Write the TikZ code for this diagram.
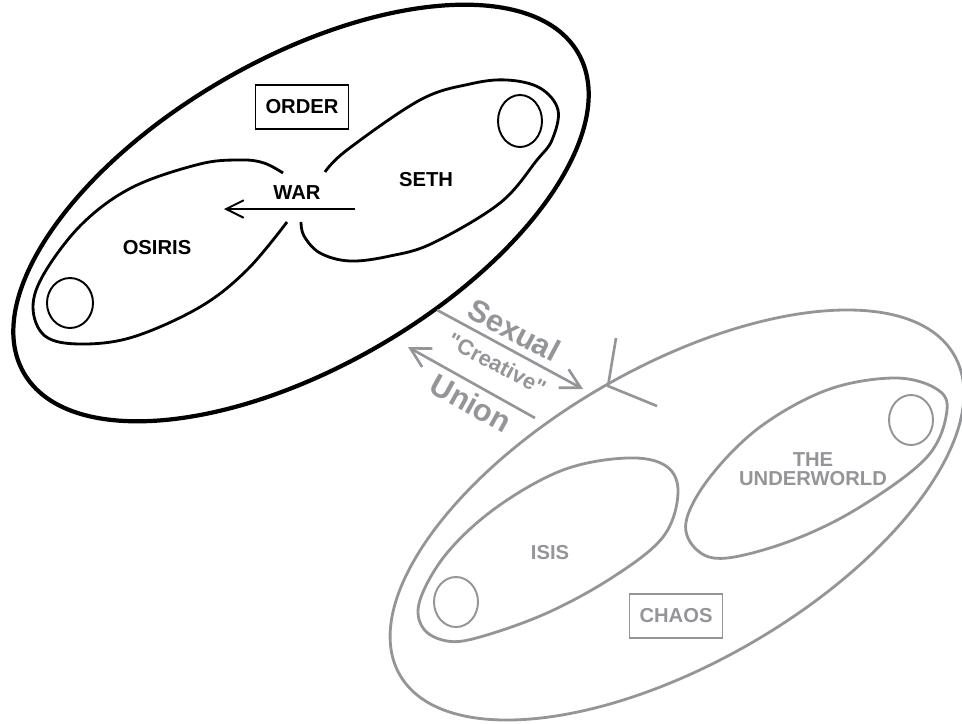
\documentclass[tikz,border=0pt]{standalone}
\usepackage{fontspec}
\setmainfont{Liberation Sans}
\usetikzlibrary{arrows.meta}
\definecolor{chaosgray}{RGB}{147,149,152}
\newcommand\straightq{\XeTeXglyph\XeTeXcharglyph"22\relax}

\begin{document}
\begin{tikzpicture}[x = 0.02cm, y = -0.02cm,
	lbl/.style = {font = \bfseries\fontsize{11.5}{13}\selectfont},
	biglbl/.style = {font = \bfseries\fontsize{17.5}{19}\selectfont, text = chaosgray},
	namebox/.style = {draw, line width = 1.1pt, lbl, minimum width = 1.86cm, minimum height = 0.88cm},
	lobe/.style = {line width = 1.6pt},
	ring/.style = {line width = 1.1pt},
	bigarrow/.style = {chaosgray, line width = 1.5pt, -{Straight Barb[length = 11pt, width = 12pt, line width = 1.5pt]}}]
	\useasboundingbox (0,0) rectangle (962,723);

	% order
	\coordinate (oc) at (301,213);
	\draw [line width = 2.4pt, rotate around = {30:(oc)}] (oc) ellipse [x radius = 320, y radius = 154];
	\draw [lobe] plot [smooth, tension = 0.6] coordinates {(283,173) (264,163) (241,160) (200,164) (133,187) (83,223) (45,272) (33,307) (45,336) (80,344) (133,337) (200,307) (247,270) (287,222)};
	\draw [lobe] plot [smooth, tension = 0.6] coordinates {(325,172) (347,150) (420,100) (470,84) (507,80) (540,88) (558,110) (552,140) (537,160) (500,203) (433,243) (390,256) (350,261) (320,253) (304,236) (301,222)};
	\draw [ring] (70,303) ellipse [x radius = 23, y radius = 25]
		(520,121) ellipse [x radius = 22, y radius = 26];
	\node [namebox] (order) at (302,107) {ORDER};
	\node [lbl] (war) at (297,193) {WAR};
	\node [lbl] (seth) at (426,180) {SETH};
	\node [lbl] (osiris) at (157,248) {OSIRIS};
	\coordinate (warstart) at (355,209);
	\coordinate (warend) at (224,209);
	\draw [line width = 1.1pt, -{Straight Barb[length = 10pt, width = 10pt, line width = 1.1pt]}] (warstart) -- (warend);

	% chaos
	\begin{scope}[chaosgray]
	\coordinate (cc) at (677,515);
	\draw [line width = 1.6pt, rotate around = {30:(cc)}] (cc) ellipse [x radius = 320, y radius = 148];
	\draw [lobe] plot [smooth cycle, tension = 0.6] coordinates {(627,458) (666,466) (678,493) (663,537) (613,577) (547,613) (480,637) (447,641) (423,628) (420,600) (447,553) (497,507) (563,470)};
	\draw [lobe] plot [smooth cycle, tension = 0.6] coordinates {(893,378) (935,388) (947,410) (927,457) (860,507) (793,540) (727,558) (697,550) (686,522) (710,477) (760,427) (827,390)};
	\draw [ring] (456,602) ellipse [x radius = 22, y radius = 25]
		(911,420) ellipse [x radius = 22, y radius = 25];
	\node [lbl, text = chaosgray] (isis) at (550,553) {ISIS};
	\node [lbl, text = chaosgray, align = center] (underworld) at (813,469) {THE\\[-2pt]UNDERWORLD};
	\node [namebox, text = chaosgray] (chaos) at (676,616) {CHAOS};
	\end{scope}

	% union
	\coordinate (hit) at (608,386);
	\coordinate (ytop) at (616,338);
	\coordinate (yright) at (657,406);
	\draw [chaosgray, line width = 1.5pt] (ytop) -- (hit) -- (yright);
	\coordinate (sexstart) at (437,310);
	\coordinate (sexend) at (583,389);
	\coordinate (unistart) at (535,418);
	\coordinate (uniend) at (408,347);
	\draw [bigarrow] (sexstart) -- (sexend);
	\draw [bigarrow] (unistart) -- (uniend);
	\node [biglbl, rotate = -28] (sexual) at (514,330) {Sexual};
	\node [biglbl, rotate = -28, font = \bfseries\fontsize{12.5}{14}\selectfont] (creative) at (497,364) {\straightq Creative\straightq};
	\node [biglbl, rotate = -29] (union) at (471,403) {Union};
\end{tikzpicture}
\end{document}
